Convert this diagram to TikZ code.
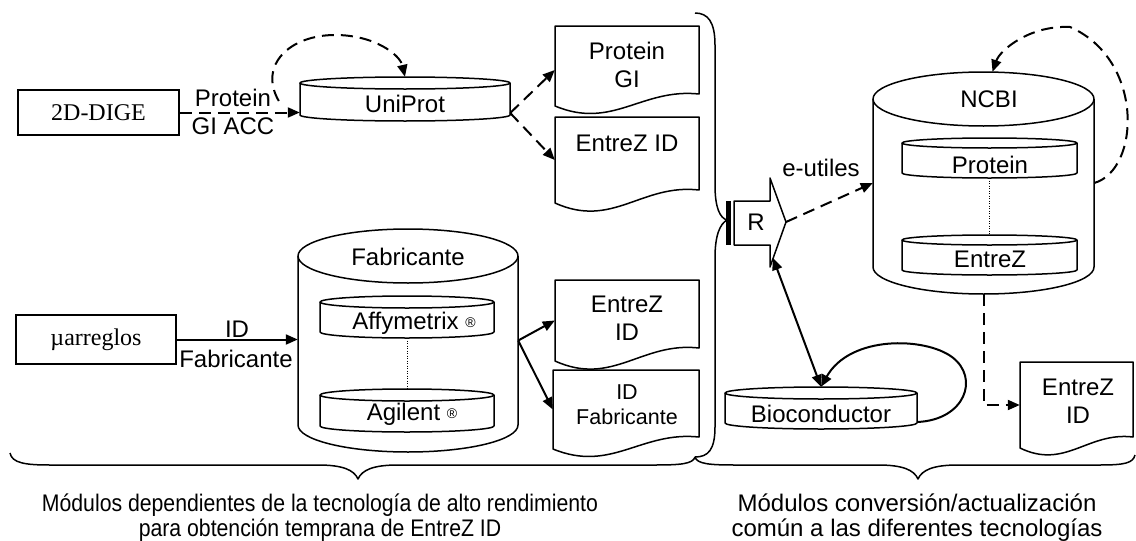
\documentclass[tikz,border=0pt]{standalone}
\usepackage{fontspec}
\usepackage{graphicx}
\setmainfont{Liberation Sans}
\newfontfamily\tnr{Liberation Serif}
\usetikzlibrary{arrows.meta}
\tikzset{
  shp/.style={line width=1.5pt, line join=round},
  conn/.style={line width=2pt, -{Triangle[length=12pt,width=10pt]}},
  dconn/.style={conn, dash pattern=on 12pt off 7pt},
  lbl/.style={font=\fontsize{24}{28}\selectfont, align=center, inner sep=0pt},
  rectbox/.style={draw, line width=1.5pt, inner sep=0pt, font=\tnr\fontsize{24}{28}\selectfont},
  dotln/.style={line width=1pt, dash pattern=on 1pt off 1.5pt},
  bottomtxt/.style={font=\fontsize{24}{24.5}\selectfont, align=center, inner sep=0pt, anchor=north},
}
% database cylinder: name, x left, y top, x right, y bottom, ellipse half-height
\newcommand{\dbcyl}[6]{%
  \node[inner sep=0pt, minimum width={(#4-#2)*1pt}, minimum height={(#5-#3)*1pt}] (#1) at ({(#2+#4)/2},{(#3+#5)/2}) {};
  \draw[shp] (#2,#3+#6) -- (#2,#5-#6) arc[start angle=180, end angle=360, x radius={(#4-#2)/2*1pt}, y radius=#6pt] -- (#4,#3+#6);
  \draw[shp] ({(#2+#4)/2},#3+#6) ellipse[x radius={(#4-#2)/2*1pt}, y radius=#6pt];
}
% document shape: name, x left, y top, x right, y left bottom, y right bottom
\newcommand{\docshape}[6]{%
  \node[inner sep=0pt, minimum width={(#4-#2)*1pt}, minimum height={(#5-#3)*1pt}] (#1) at ({(#2+#4)/2},{(#3+#5)/2}) {};
  \draw[shp] (#4,#6) .. controls ({#2+0.6*(#4-#2)},{#5-1.5*(#5-#6)}) and ({#2+0.4*(#4-#2)},{#5+2*(#5-#6)}) .. (#2,#5) -- (#2,#3) -- (#4,#3) -- cycle;
}
\newcommand{\narrow}[1]{\scalebox{0.885}[1]{#1}}
\begin{document}
\begin{tikzpicture}[x=1pt,y=-1pt]
\useasboundingbox (0,0) rectangle (1136,541);

% braces
\draw[shp] (695,13) .. controls (708,13) and (715,22) .. (715,45) -- (715,185)
  .. controls (715,208) and (720,218) .. (727,220) .. controls (720,224) and (715,235) .. (715,258)
  -- (715,427) .. controls (715,450) and (708,457) .. (695,457);
\draw[shp] (10,453) .. controls (12,463) and (25,465) .. (50,465) -- (318,465)
  .. controls (343,465) and (354,470) .. (358,479) .. controls (362,470) and (373,465) .. (398,465)
  -- (655,465) .. controls (680,465) and (693,464) .. (695,457);
\draw[shp] (695,457) .. controls (697,464) and (710,465) .. (735,465) -- (878,465)
  .. controls (903,465) and (914,470) .. (918,479) .. controls (922,470) and (933,465) .. (958,465)
  -- (1100,465) .. controls (1125,465) and (1133,463) .. (1135,455);

% source boxes
\node[rectbox, minimum width=161pt, minimum height=45pt] (dige) at (98.5,112.5) {2D-DIGE};
\node[rectbox, minimum width=160pt, minimum height=49pt] (marr) at (96,339.5) {µarreglos};

% databases
\dbcyl{uni}{300}{77}{510}{121}{6}
\node[lbl] (unit) at (405,104) {UniProt};

\dbcyl{fab}{298}{229}{518}{452}{27}
\node[lbl] (fabt) at (408,257) {Fabricante};
\dbcyl{affy}{320}{296}{494}{338}{6}
\node[lbl] (affyt) at (414,323) {Affymetrix \raisebox{1.5pt}{\fontsize{14}{14}\selectfont ®}};
\dbcyl{agi}{320}{389}{494}{432}{6}
\node[lbl] (agit) at (412,414) {Agilent \raisebox{1.5pt}{\fontsize{14}{14}\selectfont ®}};
\draw[dotln] (affy.south) -- (agi.north);

\dbcyl{ncbi}{873}{72}{1094}{294}{27}
\node[lbl] (ncbit) at (989,99) {NCBI};
\dbcyl{prot}{902}{138}{1077}{178}{5}
\node[lbl] (prott) at (990,165) {Protein};
\dbcyl{entz}{902}{235}{1077}{275}{5}
\node[lbl] (entzt) at (990,259) {EntreZ};
\draw[dotln] (prot.south) -- (entz.north);

\dbcyl{bio}{725}{387}{917}{429}{6}
\node[lbl] (biot) at (821,414) {Bioconductor};

% documents
\docshape{docPG}{555}{26}{699}{106}{94}
\node[lbl] (docPGt) at (627,65) {Protein\\GI};
\docshape{docEZa}{555}{117}{699}{203}{190}
\node[lbl] (docEZat) at (627,143) {EntreZ ID};
\docshape{docEZb}{555}{280}{699}{361}{348}
\node[lbl] (docEZbt) at (627,318) {EntreZ\\ID};
\docshape{docIDF}{553}{370}{699}{449}{437}
\node[lbl, font=\fontsize{21.5}{25}\selectfont] (docIDFt) at (627,405) {ID\\Fabricante};
\docshape{docEZc}{1020}{362}{1133}{448}{437}
\node[lbl] (docEZct) at (1078,401) {EntreZ\\ID};

% R block arrow
\draw[shp, fill=white] (734,201) -- (770,201) -- (770,178) -- (786,222) -- (770,267) -- (770,245) -- (734,245) -- cycle;
\node[lbl] (R) at (756,222) {R};
\fill (726,201) rectangle (731,245);
\coordinate (Rtip) at (786,222);
\coordinate (Rlow) at (773,258);

% connectors
\draw[dconn] (dige.east) -- (dige.east -| uni.west);
\node[lbl] (lprot) at (233,98) {Protein};
\node[lbl] (lgiacc) at (233,126) {GI ACC};
\coordinate (uniloop) at ([xshift=-21pt,yshift=-2pt]uni.west);
\draw[dconn] (uniloop) .. controls (258,65) and (290,35) .. (335,35) .. controls (375,35) and (400,55) .. (uni.north);
\coordinate (uniout) at ([yshift=-14pt]uni.east);
\draw[dconn] (uniout) -- ([yshift=-4pt]docPG.west);
\draw[dconn] (uniout) -- (docEZa.west);

\draw[conn] (marr.east) -- (marr.east -| fab.west);
\node[lbl] (lid) at (237,329) {ID};
\node[lbl] (lfab) at (236,359) {Fabricante};
\draw[conn] (fab.east) -- (docEZb.west);
\draw[conn] (fab.east) -- (docIDF.west);

\draw[dconn] (Rtip) -- (ncbi.west);
\node[lbl] (eut) at (821,168) {e-utiles};
\draw[line width=2pt, {Triangle[length=12pt,width=10pt]}-{Triangle[length=12pt,width=10pt]}] (Rlow) -- (bio.north);
\draw[conn] ([yshift=-14pt]bio.east) .. controls (965,420) and (980,378) .. (952,357) .. controls (925,337) and (850,335) .. (bio.north);
\draw[dconn] (ncbi.east) .. controls (1140,170) and (1145,60) .. (1070,27) .. controls (1030,25) and (1000,50) .. ([xshift=9pt]ncbi.north);
\draw[dconn] (ncbi.south) |- (docEZc.west);

% bottom captions
\node[bottomtxt] (capL) at (320,494) {\narrow{Módulos dependientes de la tecnología de alto rendimiento}\\\narrow{para obtención temprana de EntreZ ID}};
\node[bottomtxt] (capR) at (917,494) {Módulos conversión/actualización\\común a las diferentes tecnologías};
\end{tikzpicture}
\end{document}
